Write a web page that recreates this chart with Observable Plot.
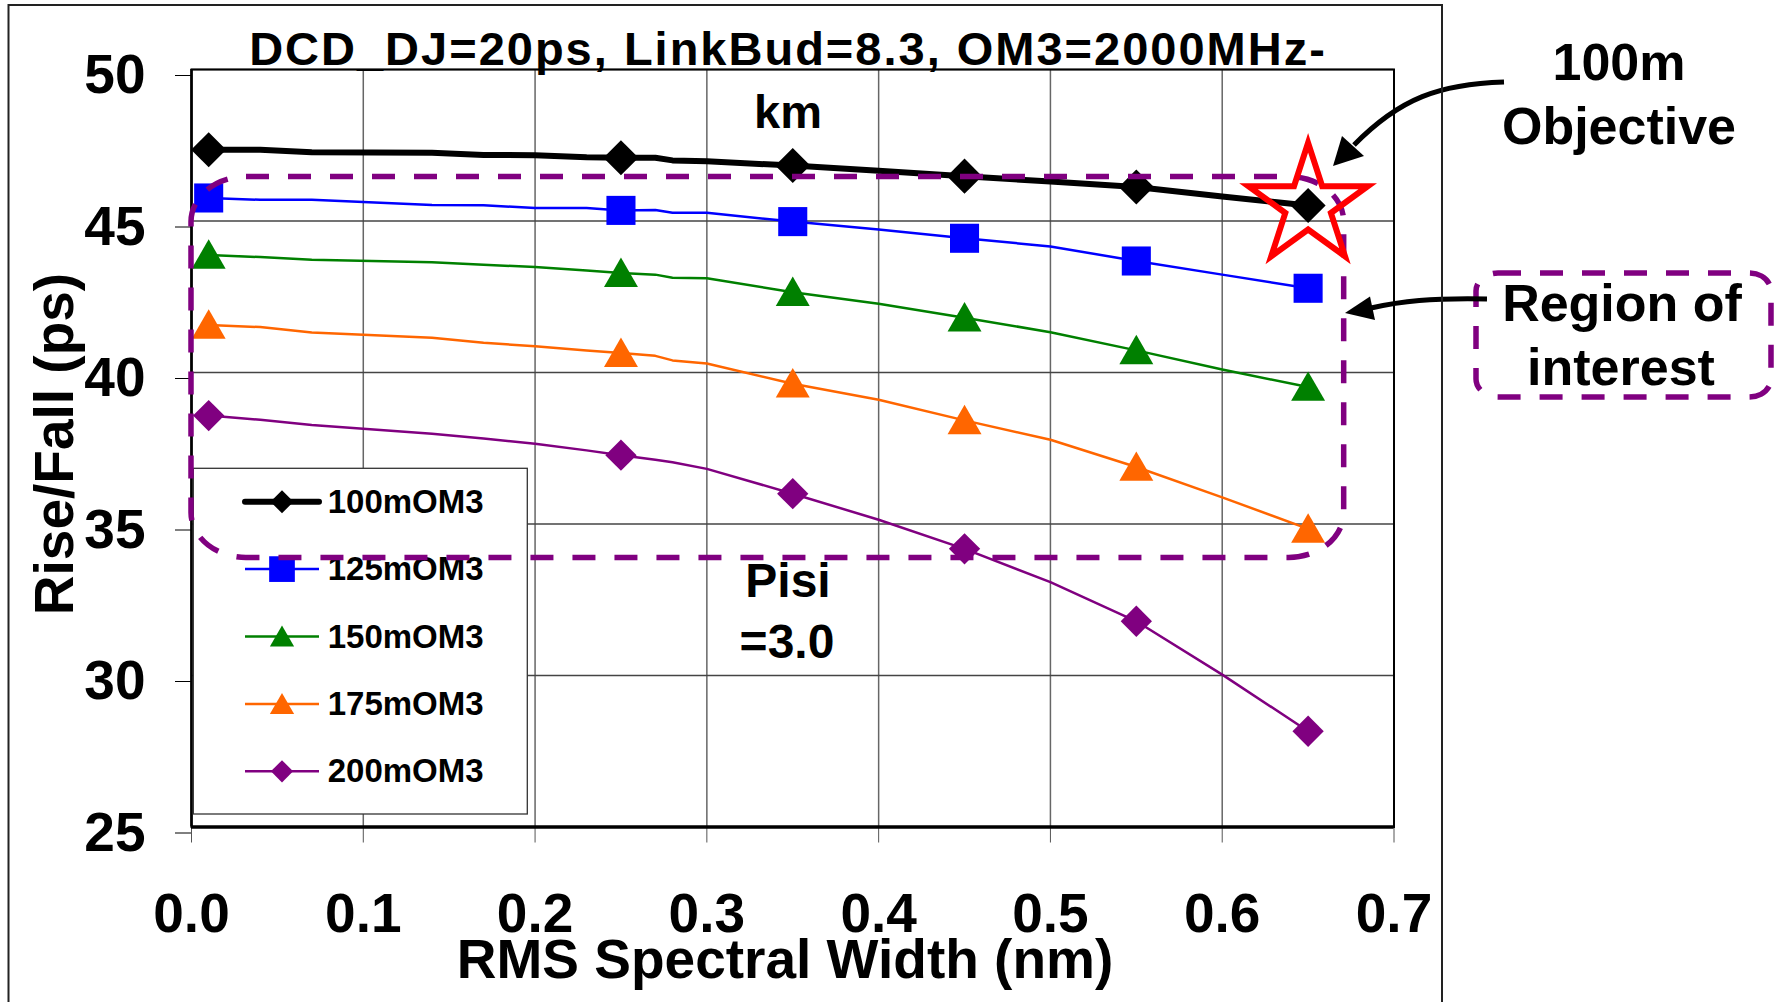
<!DOCTYPE html>
<html><head><meta charset="utf-8">
<script src="https://cdn.jsdelivr.net/npm/d3@7"></script>
<script src="https://cdn.jsdelivr.net/npm/@observablehq/plot@0.6"></script>
<style>
html,body{margin:0;padding:0;background:#fff;}
#chart{position:relative;width:1785px;height:1002px;}
</style></head>
<body><div id="chart"></div>
<script>
// ---------- data ----------
const xLine   = [0.01, 0.04, 0.07, 0.14, 0.17, 0.2, 0.23, 0.25, 0.27, 0.28, 0.3, 0.35, 0.4, 0.45, 0.5, 0.55, 0.6, 0.65];
const markerX = [0.01, 0.25, 0.35, 0.45, 0.55, 0.65];
const y100 = [47.35, 47.35, 47.27, 47.25, 47.18, 47.17, 47.10, 47.09, 47.09, 47.00, 46.97, 46.83, 46.66, 46.48, 46.30, 46.12, 45.81, 45.51];
const y125 = [45.76, 45.70, 45.70, 45.53, 45.52, 45.43, 45.43, 45.35, 45.36, 45.27, 45.27, 44.98, 44.72, 44.43, 44.16, 43.68, 43.23, 42.78];
const y150 = [43.88, 43.81, 43.72, 43.64, 43.56, 43.48, 43.37, 43.28, 43.23, 43.13, 43.11, 42.65, 42.27, 41.81, 41.33, 40.73, 40.10, 39.52];
const y175 = [41.57, 41.50, 41.32, 41.15, 40.98, 40.87, 40.73, 40.64, 40.55, 40.40, 40.30, 39.63, 39.10, 38.42, 37.78, 36.88, 35.88, 34.84];
const y200 = [38.58, 38.44, 38.27, 37.98, 37.82, 37.65, 37.43, 37.27, 37.12, 37.04, 36.82, 36.00, 35.14, 34.18, 33.08, 31.79, 30.03, 28.16];
const seriesNames  = ["100mOM3", "125mOM3", "150mOM3", "175mOM3", "200mOM3"];
const seriesValues = [y100, y125, y150, y175, y200];
const xTicks = [0, 0.1, 0.2, 0.3, 0.4, 0.5, 0.6, 0.7];
const yTicks = [25, 30, 35, 40, 45, 50];
const titleLines = ["DCD_DJ=20ps, LinkBud=8.3, OM3=2000MHz-", "km"];
const noteLines = ["Pisi", "=3.0"];
const objectiveLines = ["100m", "Objective"];
const regionLines = ["Region of", "interest"];
const xLabel = "RMS Spectral Width (nm)";
const yLabel = "Rise/Fall (ps)";
const regionBox = {x1: 0, x2: 0.671, y1: 33.88, y2: 46.45};
const objective = {x: xLine[xLine.length - 1], y: y100[y100.length - 1]};

// ---------- styles ----------
const FONT = "'Liberation Sans', Arial, Helvetica, sans-serif";
const PURPLE = "#800080";
const styles = {
  "100mOM3": {color: "#000000", width: 6,   symbol: "diamond2", r: 15.8, dy: 0, lr: 10.4},
  "125mOM3": {color: "#0000FF", width: 2.5, symbol: "square",   r: 16.4, dy: 0, lr: 14.5},
  "150mOM3": {color: "#008000", width: 2.5, symbol: "triangle", r: 12.6, dy: 4, lr: 9},
  "175mOM3": {color: "#FF6600", width: 2.5, symbol: "triangle", r: 12.6, dy: 4, lr: 9},
  "200mOM3": {color: "#800080", width: 2.5, symbol: "diamond2", r: 14.1, dy: 0, lr: 10}
};

const rows = seriesNames.flatMap((name, i) => xLine.map((x, j) => ({series: name, x, y: seriesValues[i][j]})));

const seriesMarks = seriesNames.flatMap(name => {
  const s = styles[name];
  const d = rows.filter(r => r.series === name);
  return [
    Plot.line(d, {x: "x", y: "y", stroke: s.color, strokeWidth: s.width, strokeLinejoin: "round"}),
    Plot.dot(d.filter(r => markerX.includes(r.x)), {x: "x", y: "y", symbol: s.symbol, r: s.r, fill: s.color, stroke: "none", dy: s.dy})
  ];
});

const plot = Plot.plot({
  width: 1785, height: 1002,
  marginLeft: 191, marginRight: 391.5, marginTop: 69, marginBottom: 175.5,
  x: {domain: [0, 0.7]},
  y: {domain: [25, 50]},
  style: {fontFamily: FONT, background: "#fff", color: "#000", overflow: "visible"},
  marks: [
    Plot.gridX(xTicks, {stroke: "#666", strokeOpacity: 1, strokeWidth: 1.5}),
    Plot.gridY(yTicks, {stroke: "#444", strokeOpacity: 1, strokeWidth: 1.5}),
    Plot.axisX(xTicks, {tickFormat: d3.format(".1f"), fontSize: 55, fontWeight: "bold", tickSize: 16, tickPadding: 50, label: null, stroke: "#555"}),
    Plot.axisY(yTicks, {fontSize: 55, fontWeight: "bold", tickSize: 16, tickPadding: 30, dy: 6, label: null}),
    Plot.frame({stroke: "#000", strokeWidth: 2}),
    Plot.ruleY([25], {stroke: "#000", strokeWidth: 3.5}),
    Plot.ruleX([0], {stroke: "#000", strokeWidth: 2.5}),
    ...seriesMarks,
    Plot.rect([regionBox], {x1: "x1", x2: "x2", y1: "y1", y2: "y2", fill: "none", stroke: PURPLE, strokeWidth: 5.5, strokeDasharray: "23,19", rx: 55, ry: 45}),
    Plot.dot([objective], {x: "x", y: "y", symbol: "star", r: 37.5, fill: "none", stroke: "#FF0000", strokeWidth: 6})
  ]
});
document.getElementById("chart").appendChild(plot);

const svg = d3.select(plot);

// ---------- legend (inserted below the dashed region box) ----------
const lg = svg.insert("g", 'g[aria-label="rect"]').attr("class", "legend").attr("text-anchor", "start");
lg.append("rect").attr("x", 193.3).attr("y", 468.3).attr("width", 334).attr("height", 345.7)
  .attr("fill", "#fff").attr("stroke", "#333").attr("stroke-width", 1.3);
const symMap = {diamond2: d3.symbolDiamond2, square: d3.symbolSquare, triangle: d3.symbolTriangle};
seriesNames.forEach((name, i) => {
  const s = styles[name];
  const base = 512.7 + i * 67.4;
  const cy = base - 11;
  lg.append("line").attr("x1", 245).attr("x2", 319).attr("y1", cy).attr("y2", cy)
    .attr("stroke", s.color).attr("stroke-width", s.width).attr("stroke-linecap", i === 0 ? "round" : "butt");
  lg.append("path").attr("transform", `translate(282,${cy + (s.symbol === "triangle" ? 3 : 0)})`)
    .attr("d", d3.symbol(symMap[s.symbol], Math.PI * s.lr * s.lr)()).attr("fill", s.color);
  lg.append("text").attr("x", 327.7).attr("y", base).attr("text-anchor", "start").text(name)
    .attr("font-size", 33).attr("font-weight", "bold").attr("font-family", FONT).attr("fill", "#000");
});

// ---------- annotations ----------
const ann = svg.append("g").attr("font-family", FONT).attr("font-weight", "bold").attr("fill", "#000");
function txt(x, y, s, size, extra) {
  const t = ann.append("text").attr("x", x).attr("y", y).attr("text-anchor", "middle").attr("font-size", size).text(s);
  if (extra) extra(t);
  return t;
}
txt(788, 65, titleLines[0], 47, t => t.attr("letter-spacing", "2px"));
txt(788, 128, titleLines[1], 47);
txt(788, 597, noteLines[0], 48);
txt(787, 658, noteLines[1], 48);
txt(1619, 80, objectiveLines[0], 52);
txt(1619, 144, objectiveLines[1], 52);
txt(1622, 321, regionLines[0], 52);
txt(1621, 385, regionLines[1], 52);
txt(785, 978, xLabel, 55);
ann.append("text").attr("transform", "translate(73,444) rotate(-90)").attr("text-anchor", "middle")
  .attr("font-size", 55).text(yLabel);

// region-of-interest callout box
svg.append("rect").attr("x", 1476).attr("y", 273).attr("width", 295).attr("height", 124)
  .attr("rx", 22).attr("ry", 18).attr("fill", "none").attr("stroke", PURPLE)
  .attr("stroke-width", 5.5).attr("stroke-dasharray", "23,19");

// arrows
const arr = svg.append("g");
arr.append("path").attr("d", "M1504,82 C1440,84 1400,98 1354,145").attr("fill", "none").attr("stroke", "#000").attr("stroke-width", 5);
arr.append("polygon").attr("points", "1333,166 1342,136 1364,156").attr("fill", "#000");
arr.append("path").attr("d", "M1487,299 C1430,298 1402,301 1371,308").attr("fill", "none").attr("stroke", "#000").attr("stroke-width", 5);
arr.append("polygon").attr("points", "1345,313 1370,296.5 1375,320").attr("fill", "#000");

// outer chart border
svg.append("rect").attr("x", 8.5).attr("y", 5).attr("width", 1433.5).attr("height", 1010)
  .attr("fill", "none").attr("stroke", "#222").attr("stroke-width", 2);
</script>
</body></html>
